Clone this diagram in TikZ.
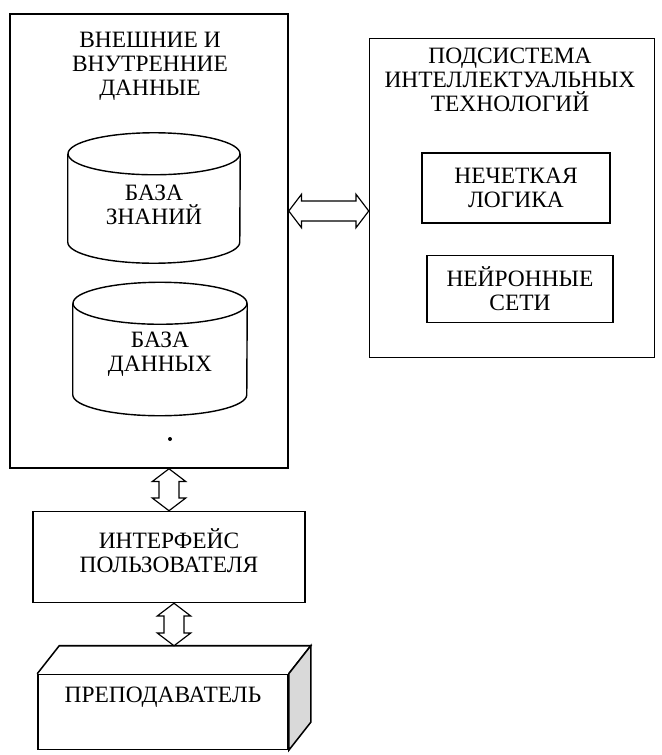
\documentclass[tikz,border=0pt]{standalone}
\usepackage{fontspec}
\setmainfont{Liberation Serif}
\usetikzlibrary{calc}

\tikzset{
  block/.style={draw, line width=1.3pt, align=center},
  dbline/.style={line width=1.2pt}
}

% hollow double arrow from #1 to #2
\newcommand{\hollowlink}[2]{%
  \draw[line width=1pt, fill=white] (#1)
    -- ($(#1)!0.38cm!(#2)!0.5cm!90:(#2)$) -- ($(#1)!0.38cm!(#2)!0.3cm!90:(#2)$)
    -- ($(#2)!0.38cm!(#1)!0.3cm!-90:(#1)$) -- ($(#2)!0.38cm!(#1)!0.5cm!-90:(#1)$)
    -- (#2)
    -- ($(#2)!0.38cm!(#1)!0.5cm!90:(#1)$) -- ($(#2)!0.38cm!(#1)!0.3cm!90:(#1)$)
    -- ($(#1)!0.38cm!(#2)!0.3cm!-90:(#2)$) -- ($(#1)!0.38cm!(#2)!0.5cm!-90:(#2)$)
    -- cycle;}

% cylinder round the box of node #1, ends of half height 21
\newcommand{\drum}[1]{%
  \draw[dbline] ($(#1.north west)+(0,21)$) -- ($(#1.south west)+(0,-21)$)
    arc[start angle=180, end angle=0, x radius=\pgfkeysvalueof{/tikz/drumrx}, y radius=21]
    -- ($(#1.north east)+(0,21)$);
  \draw[dbline] ($(#1.north)+(0,21)$) ellipse ({\pgfkeysvalueof{/tikz/drumrx}} and 21);}
\pgfkeyssetvalue{/tikz/drumrx}{86}

\begin{document}
\begin{tikzpicture}[x=0.03cm, y=-0.03cm, font=\fontsize{20}{20.5}\selectfont]
\useasboundingbox (0,0) rectangle (661,755);

% Nodes
\node[block, minimum width=8.34cm, minimum height=13.62cm] (ext) at (149,241) {};
\node[align=center] (extTitle) at (150,66) {ВНЕШНИЕ И\\ВНУТРЕННИЕ\\ДАННЫЕ};
\node[minimum width=5.16cm, minimum height=3.9cm, inner sep=0pt] (kb) at (154,198) {};
\drum{kb}
\node[align=center] (kbText) at (154,205) {БАЗА\\ЗНАНИЙ};
\pgfkeyssetvalue{/tikz/drumrx}{87}
\node[minimum width=5.22cm, minimum height=3.99cm, inner sep=0pt] (dbase) at (160,349) {};
\drum{dbase}
\node[align=center] (dbaseText) at (160,354) {БАЗА\\ДАННЫХ};
\fill (170,439) circle (2);

\node[block, minimum width=8.55cm, minimum height=9.57cm] (sys) at (512,198) {};
\node[align=center] (sysTitle) at (510,80) {ПОДСИСТЕМА\\ИНТЕЛЛЕКТУАЛЬНЫХ\\ТЕХНОЛОГИЙ};
\node[block, minimum width=5.64cm, minimum height=2.1cm] (fuzzy) at (516,188) {НЕЧЕТКАЯ\\ЛОГИКА};
\node[block, minimum width=5.58cm, minimum height=2.0cm] (neuro) at (520,289) {НЕЙРОННЫЕ\\СЕТИ};

\node[block, minimum width=8.16cm, minimum height=2.73cm] (iface) at (169,557) {};
\node[align=center] (ifaceText) at (169,551) {ИНТЕРФЕЙС\\ПОЛЬЗОВАТЕЛЯ};

\node[block, minimum width=7.5cm, minimum height=2.25cm] (teacher) at (163,712) {};
\node (teacherText) at ($(teacher.center)+(0,-15)$) {ПРЕПОДАВАТЕЛЬ};
\draw[line width=1.3pt] (teacher.north west) -- +(22,-28) -- ($(teacher.north east)+(22,-28)$) -- (teacher.north east);
\draw[line width=1.3pt, fill=gray!30] (teacher.north east) -- +(22,-28) -- ($(teacher.south east)+(22,-28)$) -- (teacher.south east) -- cycle;
\coordinate (tback) at ($(teacher.north)+(11,-28)$);
\coordinate (mid) at (330,211);
\coordinate (extLink) at (ext.east |- mid);
\coordinate (sysLink) at (sys.west |- mid);
\coordinate (extBottom) at (ext.south -| iface);
\coordinate (ifaceBottom) at (iface.south -| tback);

% Arrows
\hollowlink{extLink}{sysLink}
\hollowlink{extBottom}{iface.north}
\hollowlink{ifaceBottom}{tback}

\end{tikzpicture}
\end{document}
